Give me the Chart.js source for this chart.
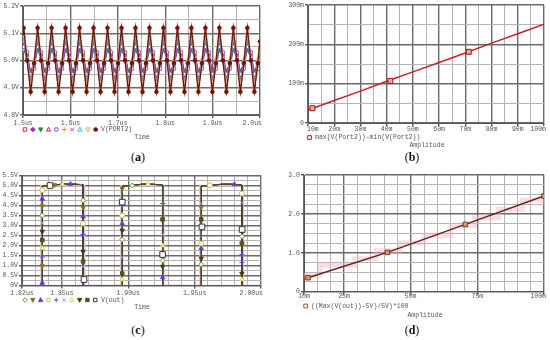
<!DOCTYPE html>
<html>
<head>
<meta charset="utf-8">
<script src="https://cdn.jsdelivr.net/npm/chart.js@4.4.1/dist/chart.umd.min.js"></script>
<style>
  body { margin: 0; background: #fff; width: 550px; height: 340px; position: relative; overflow: hidden; }
  .box { position: absolute; }
  .cap { position: absolute; font-family: "Liberation Serif", serif; font-size: 12px; line-height: 14px; color: #111; transform: translateX(-50%); }
</style>
</head>
<body>
<div class="box" style="left:0;top:0"><canvas id="chartA" width="275" height="145"></canvas></div>
<div class="box" style="left:275px;top:0"><canvas id="chartB" width="275" height="152"></canvas></div>
<div class="box" style="left:0;top:170px"><canvas id="chartC" width="275" height="145"></canvas></div>
<div class="box" style="left:275px;top:170px"><canvas id="chartD" width="275" height="150"></canvas></div>
<div class="cap" style="left:138px;top:150px">(<b>a</b>)</div>
<div class="cap" style="left:412px;top:150px">(<b>b</b>)</div>
<div class="cap" style="left:138px;top:323px">(<b>c</b>)</div>
<div class="cap" style="left:412px;top:323px">(<b>d</b>)</div>
<script>
// ---------- (a) V(PORT2), time in us ----------
const timeA = [1.5000,
  1.5013,1.5087,1.5161,1.5234, 1.5308,1.5382,1.5456,1.5529, 1.5603,1.5677,1.5751,1.5824, 1.5898,1.5972,1.6046,1.6119,
  1.6193,1.6267,1.6341,1.6414, 1.6488,1.6562,1.6636,1.6709, 1.6783,1.6857,1.6931,1.7004, 1.7078,1.7152,1.7226,1.7299,
  1.7373,1.7447,1.7521,1.7594, 1.7668,1.7742,1.7816,1.7889, 1.7963,1.8037,1.8111,1.8184, 1.8258,1.8332,1.8406,1.8479,
  1.8553,1.8627,1.8701,1.8774, 1.8848,1.8922,1.8996,1.9069, 1.9143,1.9217,1.9291,1.9364, 1.9438,1.9512,1.9586,1.9659,
  1.9733,1.9807,1.9881,1.9954,
  2.0000];
const vA1 = [5.06,
  5.07,5.01,4.93,4.99, 5.07,5.01,4.93,4.99, 5.07,5.01,4.93,4.99, 5.07,5.01,4.93,4.99,
  5.07,5.01,4.93,4.99, 5.07,5.01,4.93,4.99, 5.07,5.01,4.93,4.99, 5.07,5.01,4.93,4.99,
  5.07,5.01,4.93,4.99, 5.07,5.01,4.93,4.99, 5.07,5.01,4.93,4.99, 5.07,5.01,4.93,4.99,
  5.07,5.01,4.93,4.99, 5.07,5.01,4.93,4.99, 5.07,5.01,4.93,4.99, 5.07,5.01,4.93,4.99,
  5.07,5.01,4.93,4.99,
  5.04];
const vA2 = [5.05,
  5.06,5.02,4.94,4.98, 5.06,5.02,4.94,4.98, 5.06,5.02,4.94,4.98, 5.06,5.02,4.94,4.98,
  5.06,5.02,4.94,4.98, 5.06,5.02,4.94,4.98, 5.06,5.02,4.94,4.98, 5.06,5.02,4.94,4.98,
  5.06,5.02,4.94,4.98, 5.06,5.02,4.94,4.98, 5.06,5.02,4.94,4.98, 5.06,5.02,4.94,4.98,
  5.06,5.02,4.94,4.98, 5.06,5.02,4.94,4.98, 5.06,5.02,4.94,4.98, 5.06,5.02,4.94,4.98,
  5.06,5.02,4.94,4.98,
  5.03];
const vA3 = [5.03,
  5.04,5.01,4.96,4.99, 5.04,5.01,4.96,4.99, 5.04,5.01,4.96,4.99, 5.04,5.01,4.96,4.99,
  5.04,5.01,4.96,4.99, 5.04,5.01,4.96,4.99, 5.04,5.01,4.96,4.99, 5.04,5.01,4.96,4.99,
  5.04,5.01,4.96,4.99, 5.04,5.01,4.96,4.99, 5.04,5.01,4.96,4.99, 5.04,5.01,4.96,4.99,
  5.04,5.01,4.96,4.99, 5.04,5.01,4.96,4.99, 5.04,5.01,4.96,4.99, 5.04,5.01,4.96,4.99,
  5.04,5.01,4.96,4.99,
  5.02];
const vA4 = [5.07,
  5.09,5.00,4.91,4.98, 5.09,5.00,4.91,4.98, 5.09,5.00,4.91,4.98, 5.09,5.00,4.91,4.98,
  5.09,5.00,4.91,4.98, 5.09,5.00,4.91,4.98, 5.09,5.00,4.91,4.98, 5.09,5.00,4.91,4.98,
  5.09,5.00,4.91,4.98, 5.09,5.00,4.91,4.98, 5.09,5.00,4.91,4.98, 5.09,5.00,4.91,4.98,
  5.09,5.00,4.91,4.98, 5.09,5.00,4.91,4.98, 5.09,5.00,4.91,4.98, 5.09,5.00,4.91,4.98,
  5.09,5.00,4.91,4.98,
  5.05];
const vA5 = [5.04,
  5.05,5.03,4.95,4.97, 5.05,5.03,4.95,4.97, 5.05,5.03,4.95,4.97, 5.05,5.03,4.95,4.97,
  5.05,5.03,4.95,4.97, 5.05,5.03,4.95,4.97, 5.05,5.03,4.95,4.97, 5.05,5.03,4.95,4.97,
  5.05,5.03,4.95,4.97, 5.05,5.03,4.95,4.97, 5.05,5.03,4.95,4.97, 5.05,5.03,4.95,4.97,
  5.05,5.03,4.95,4.97, 5.05,5.03,4.95,4.97, 5.05,5.03,4.95,4.97, 5.05,5.03,4.95,4.97,
  5.05,5.03,4.95,4.97,
  5.02];
const vA6 = [5.08,
  5.10,5.01,4.90,5.00, 5.10,5.01,4.90,5.00, 5.10,5.01,4.90,5.00, 5.10,5.01,4.90,5.00,
  5.10,5.01,4.90,5.00, 5.10,5.01,4.90,5.00, 5.10,5.01,4.90,5.00, 5.10,5.01,4.90,5.00,
  5.10,5.01,4.90,5.00, 5.10,5.01,4.90,5.00, 5.10,5.01,4.90,5.00, 5.10,5.01,4.90,5.00,
  5.10,5.01,4.90,5.00, 5.10,5.01,4.90,5.00, 5.10,5.01,4.90,5.00, 5.10,5.01,4.90,5.00,
  5.10,5.01,4.90,5.00,
  5.06];
const vA7 = [5.06,
  5.08,5.02,4.92,4.99, 5.08,5.02,4.92,4.99, 5.08,5.02,4.92,4.99, 5.08,5.02,4.92,4.99,
  5.08,5.02,4.92,4.99, 5.08,5.02,4.92,4.99, 5.08,5.02,4.92,4.99, 5.08,5.02,4.92,4.99,
  5.08,5.02,4.92,4.99, 5.08,5.02,4.92,4.99, 5.08,5.02,4.92,4.99, 5.08,5.02,4.92,4.99,
  5.08,5.02,4.92,4.99, 5.08,5.02,4.92,4.99, 5.08,5.02,4.92,4.99, 5.08,5.02,4.92,4.99,
  5.08,5.02,4.92,4.99,
  5.05];
const vA8 = [5.07,
  5.09,5.00,4.92,4.98, 5.09,5.00,4.92,4.98, 5.09,5.00,4.92,4.98, 5.09,5.00,4.92,4.98,
  5.09,5.00,4.92,4.98, 5.09,5.00,4.92,4.98, 5.09,5.00,4.92,4.98, 5.09,5.00,4.92,4.98,
  5.09,5.00,4.92,4.98, 5.09,5.00,4.92,4.98, 5.09,5.00,4.92,4.98, 5.09,5.00,4.92,4.98,
  5.09,5.00,4.92,4.98, 5.09,5.00,4.92,4.98, 5.09,5.00,4.92,4.98, 5.09,5.00,4.92,4.98,
  5.09,5.00,4.92,4.98,
  5.05];
const vA9 = [5.09,
  5.11,5.01,4.89,5.00, 5.11,5.01,4.89,5.00, 5.11,5.01,4.89,5.00, 5.11,5.01,4.89,5.00,
  5.11,5.01,4.89,5.00, 5.11,5.01,4.89,5.00, 5.11,5.01,4.89,5.00, 5.11,5.01,4.89,5.00,
  5.11,5.01,4.89,5.00, 5.11,5.01,4.89,5.00, 5.11,5.01,4.89,5.00, 5.11,5.01,4.89,5.00,
  5.11,5.01,4.89,5.00, 5.11,5.01,4.89,5.00, 5.11,5.01,4.89,5.00, 5.11,5.01,4.89,5.00,
  5.11,5.01,4.89,5.00,
  5.07];
const vA10 = [5.10,
  5.12,5.00,4.885,4.99, 5.12,5.00,4.885,4.99, 5.12,5.00,4.885,4.99, 5.12,5.00,4.885,4.99,
  5.12,5.00,4.885,4.99, 5.12,5.00,4.885,4.99, 5.12,5.00,4.885,4.99, 5.12,5.00,4.885,4.99,
  5.12,5.00,4.885,4.99, 5.12,5.00,4.885,4.99, 5.12,5.00,4.885,4.99, 5.12,5.00,4.885,4.99,
  5.12,5.00,4.885,4.99, 5.12,5.00,4.885,4.99, 5.12,5.00,4.885,4.99, 5.12,5.00,4.885,4.99,
  5.12,5.00,4.885,4.99,
  5.07];
const xTicksA = [1.5, 1.6, 1.7, 1.8, 1.9, 2.0];
const xLabsA = ['1.5us', '1.6us', '1.7us', '1.8us', '1.9us', '2.0us'];
const yTicksA = [4.8, 4.9, 5.0, 5.1, 5.2];
const yLabsA = ['4.8V', '4.9V', '5.0V', '5.1V', '5.2V'];

// ---------- (b) swing vs amplitude (mV) ----------
const ampB = [10, 20, 30, 40, 50, 60, 70, 80, 90, 100];
const swingB = [33, 57, 81, 106, 130, 154, 178, 203, 227, 251];
const markAmpB = [11.7, 41.4, 71.3];
const markSwingB = [37.5, 107, 181];
const xTicksB = [10, 20, 30, 40, 50, 60, 70, 80, 90, 100];
const xLabsB = ['10m', '20m', '30m', '40m', '50m', '60m', '70m', '80m', '90m', '100m'];
const yTicksB = [0, 100, 200, 300];
const yLabsB = ['0', '100m', '200m', '300m'];

// ---------- (c) V(out), time in us ----------
const timeC = [1.8200, 1.8353, 1.8353, 1.8390, 1.8450, 1.8510, 1.8590, 1.8660, 1.8660,
  1.8955, 1.8955, 1.8990, 1.9050, 1.9110, 1.9190, 1.9259, 1.9259,
  1.9550, 1.9550, 1.9590, 1.9650, 1.9720, 1.9790, 1.9856, 1.9856, 2.0000];
const voltC = [0, 0, 4.97, 4.99, 5.03, 5.07, 5.07, 5.03, 0,
  0, 4.97, 4.98, 5.02, 5.07, 5.06, 5.02, 0,
  0, 4.97, 4.99, 5.03, 5.07, 5.06, 5.02, 0, 0];
const pinkT = [1.82, 1.8343, 1.8343, 1.8672, 1.8672, 1.8945, 1.8945, 1.9268, 1.9268, 1.9540, 1.9540, 1.9866, 1.9866, 2.0];
const pinkV = [0, 0, 5.0, 5.0, 0, 0, 5.0, 5.0, 0, 0, 5.0, 5.0, 0, 0];
const mC0 = [[1.8353,3.50],[1.8660,4.25],[1.8955,2.30],[1.9259,1.25],[1.9550,1.05],[1.9856,2.45],[1.9030,5.00]];
const mC1 = [[1.8353,3.97],[1.8353,0.97],[1.8660,3.90],[1.8955,4.85],[1.9259,3.30],[1.9550,3.90],[1.9856,2.10],[1.8445,5.03]];
const mC2 = [[1.8353,4.33],[1.8353,0.13],[1.8660,3.45],[1.8955,3.10],[1.9259,0.40],[1.9550,1.85],[1.8565,5.07],[1.9800,5.06]];
const mC3 = [[1.8353,4.77],[1.8660,3.10],[1.8955,3.50],[1.9550,2.10],[1.9856,4.60],[1.9615,5.01]];
const mC4 = [[1.8353,1.42],[1.8660,2.55],[1.8955,4.00],[1.9259,4.10],[1.9550,2.50],[1.9856,1.55],[1.9856,1.15]];
const mC5 = [[1.8353,3.13],[1.8660,0.95],[1.8955,1.40],[1.9259,2.55],[1.9550,4.10],[1.9856,4.15],[1.8640,5.04]];
const mC6 = [[1.8353,1.87],[1.8955,0.30],[1.9259,2.00],[1.9856,0.30],[1.8505,5.06],[1.9150,5.07]];
const mC7 = [[1.8353,2.70],[1.8660,1.70],[1.8955,2.75],[1.9259,0.95],[1.9550,1.35],[1.9856,0.60]];
const mC8 = [[1.8353,2.27],[1.8660,1.20],[1.8955,0.60],[1.9259,3.30],[1.9550,3.30],[1.9856,2.10]];
const mC9 = [[1.8411,5.00],[1.8667,0.30],[1.8955,4.17],[1.9259,1.55],[1.9555,2.93],[1.9858,2.80]];
const xTicksC = [1.82, 1.85, 1.90, 1.95, 2.00];
const xLabsC = ['1.82us', '1.85us', '1.90us', '1.95us', '2.00us'];
const yTicksC = [0, 0.5, 1.0, 1.5, 2.0, 2.5, 3.0, 3.5, 4.0, 4.5, 5.0, 5.5];
const yLabsC = ['0V', '0.5V', '1.0V', '1.5V', '2.0V', '2.5V', '3.0V', '3.5V', '4.0V', '4.5V', '5.0V', '5.5V'];

// ---------- (d) overshoot % vs amplitude (mV) ----------
const ampD = [11.5, 41.3, 70.5, 100];
const devD = [0.36, 1.01, 1.73, 2.46];
// faint pink step trace seen behind the curve
const pinkAmpD = [10, 16, 29, 37, 46, 55, 65, 74, 83, 92, 100];
const pinkDevD = [0.42, 0.68, 0.85, 1.05, 1.25, 1.45, 1.70, 1.90, 2.12, 2.35, 2.45];
const xTicksD = [10, 25, 50, 75, 100];
const xLabsD = ['10m', '25m', '50m', '75m', '100m'];
const yTicksD = [0, 1, 2, 3];
const yLabsD = ['0', '1.0', '2.0', '3.0'];

// ---------- styles ----------
const MONO = '"Liberation Mono", "DejaVu Sans Mono", monospace';
const TXT = '#555';
const styleA = [
  { c: '#e4262c', s: 'rect', fill: false },
  { c: '#9a2fd0', s: 'rectRot', fill: true },
  { c: '#1f9a2a', s: 'triangle', rot: 180, fill: true },
  { c: '#e0203c', s: 'triangle', fill: false },
  { c: '#7a3cf0', s: 'circle', fill: false },
  { c: '#f09a10', s: 'cross' },
  { c: '#e02cd0', s: 'crossRot' },
  { c: '#2ec4c4', s: 'triangle', fill: false },
  { c: '#f0b030', s: 'triangle', rot: 180, fill: false },
  { c: '#7a0e0e', s: 'circle', fill: true }
];
const styleC = [
  { c: '#6a9a20', s: 'rectRot', fill: false },
  { c: '#8a7418', s: 'triangle', rot: 180, fill: true },
  { c: '#5a3ee0', s: 'triangle', fill: true },
  { c: '#c8c030', s: 'circle', fill: false },
  { c: '#4a5ae8', s: 'cross' },
  { c: '#a8a0e8', s: 'crossRot' },
  { c: '#e0d840', s: 'triangle', fill: false },
  { c: '#4a3a10', s: 'triangle', rot: 180, fill: true },
  { c: '#5a5018', s: 'rect', fill: true },
  { c: '#333333', s: 'rect', fill: false }
];

Chart.defaults.font.family = MONO;
Chart.defaults.font.size = 6.5;
Chart.defaults.color = TXT;
Chart.defaults.animation = false;

function onList(v, list) { return list.some(t => Math.abs(t - v) < 1e-6); }
function labelFor(v, ticks, labs) {
  const i = ticks.findIndex(t => Math.abs(t - v) < 1e-6);
  return i >= 0 ? labs[i] : '';
}
function gridFor(ticks) {
  const major = c => c.tick && onList(c.tick.value, ticks);
  return {
    color: c => major(c) ? '#6a6a6a' : '#b4b4b4',
    lineWidth: c => major(c) ? 1.4 : 1,
    tickColor: c => major(c) ? '#555' : 'rgba(0,0,0,0)',
    tickLength: 3,
    drawTicks: true
  };
}
function scaleX(min, max, step, ticks, h) {
  return {
    type: 'linear', min: min, max: max,
    ticks: { stepSize: step, display: false, autoSkip: false },
    grid: gridFor(ticks),
    border: { color: '#555', width: 1 },
    afterFit(s) { s.height = h; s.paddingLeft = 0; s.paddingRight = 0; }
  };
}
function scaleY(min, max, step, ticks, labs, w) {
  return {
    min: min, max: max,
    ticks: { stepSize: step, autoSkip: false, padding: 1, color: TXT,
      callback: v => labelFor(v, ticks, labs) },
    grid: gridFor(ticks),
    border: { color: '#555', width: 1 },
    afterFit(s) { s.width = w; }
  };
}
function pointOpts(st, r) {
  return {
    pointStyle: st.s,
    pointRotation: st.rot || 0,
    pointRadius: r,
    pointBorderWidth: 1,
    pointBorderColor: st.c,
    pointBackgroundColor: st.fill ? st.c : '#ffffff'
  };
}
function drawMarker(ctx, st, x, y, r) {
  ctx.save();
  ctx.lineWidth = 1;
  ctx.strokeStyle = st.c;
  ctx.fillStyle = st.fill ? st.c : '#ffffff';
  ctx.beginPath();
  const d = st.rot ? -1 : 1;
  switch (st.s) {
    case 'rect': ctx.rect(x - r * 0.75, y - r * 0.75, r * 1.5, r * 1.5); break;
    case 'rectRot': ctx.moveTo(x, y - r); ctx.lineTo(x + r, y); ctx.lineTo(x, y + r); ctx.lineTo(x - r, y); ctx.closePath(); break;
    case 'triangle': ctx.moveTo(x, y - d * r); ctx.lineTo(x + r * 0.9, y + d * r * 0.7); ctx.lineTo(x - r * 0.9, y + d * r * 0.7); ctx.closePath(); break;
    case 'circle': ctx.arc(x, y, r * 0.8, 0, Math.PI * 2); break;
    case 'cross': ctx.moveTo(x - r, y); ctx.lineTo(x + r, y); ctx.moveTo(x, y - r); ctx.lineTo(x, y + r); break;
    case 'crossRot': ctx.moveTo(x - r * 0.75, y - r * 0.75); ctx.lineTo(x + r * 0.75, y + r * 0.75); ctx.moveTo(x + r * 0.75, y - r * 0.75); ctx.lineTo(x - r * 0.75, y + r * 0.75); break;
  }
  if (st.s !== 'cross' && st.s !== 'crossRot') ctx.fill();
  ctx.stroke();
  ctx.restore();
}
// x tick labels, legend row and axis title under each plot
function extras(cfg) {
  return {
    id: 'extras',
    afterDraw(chart) {
      const ctx = chart.ctx, xs = chart.scales.x, a = chart.chartArea;
      ctx.save();
      ctx.font = '6.5px ' + MONO;
      ctx.fillStyle = TXT;
      ctx.textBaseline = 'middle';
      ctx.textAlign = 'left';
      cfg.xTicks.forEach((v, i) => {
        const s = cfg.xLabs[i], w = ctx.measureText(s).width;
        let x = xs.getPixelForValue(v) - w / 2;
        if (i === 0 && cfg.firstLeft) x = a.left - 1;
        x = Math.min(x, a.right + 2 - w);
        ctx.fillText(s, x, cfg.labY);
      });
      cfg.legend.forEach((st, i) => drawMarker(ctx, st, cfg.legX + i * cfg.legDx, cfg.legY, cfg.legR));
      ctx.fillStyle = TXT;
      ctx.fillText(cfg.legText, cfg.legTextX, cfg.legY);
      ctx.textAlign = 'center';
      ctx.fillText(cfg.title, cfg.titleX, cfg.titleY);
      ctx.restore();
    }
  };
}
const base = {
  responsive: false,
  events: [],
  plugins: { legend: { display: false }, tooltip: { enabled: false } }
};

// ---------- chart (a) ----------
const rowsA = [vA1, vA2, vA3, vA4, vA5, vA6, vA7, vA8, vA9, vA10];
new Chart(document.getElementById('chartA'), {
  type: 'line',
  data: {
    datasets: rowsA.map((row, i) => Object.assign({
      data: timeA.map((t, k) => ({ x: t, y: row[k] })),
      borderColor: styleA[i].c,
      borderWidth: 1.3,
      order: 10 - i
    }, pointOpts(styleA[i], 1.8)))
  },
  options: Object.assign({}, base, {
    layout: { padding: { top: 6, right: 15, left: 0, bottom: 0 } },
    scales: {
      x: scaleX(1.5, 2.0, 0.05, xTicksA, 30),
      y: scaleY(4.8, 5.2, 0.05, yTicksA, yLabsA, 23)
    }
  }),
  plugins: [extras({ xTicks: xTicksA, xLabs: xLabsA, labY: 123.5,
    legend: styleA, legX: 25, legDx: 7.85, legY: 129.5, legR: 2.3,
    legText: 'V(PORT2)', legTextX: 101, title: 'Time', titleX: 142, titleY: 137 })]
});

// ---------- chart (b) ----------
const styleB = { c: '#c81818', s: 'rect', fill: false };
new Chart(document.getElementById('chartB'), {
  type: 'line',
  data: {
    datasets: [
      { data: markAmpB.map((a, i) => ({ x: a, y: markSwingB[i] })), showLine: false,
        pointStyle: 'rect', pointRadius: 3.5, pointBorderWidth: 1, pointBorderColor: '#a81010',
        pointBackgroundColor: '#f0a8a8', order: 0 },
      { data: ampB.map((a, i) => ({ x: a, y: swingB[i] })), borderColor: '#cc1f1f',
        borderWidth: 1.5, pointRadius: 0, order: 1 }
    ]
  },
  options: Object.assign({}, base, {
    layout: { padding: { top: 5, right: 6, left: 0, bottom: 0 } },
    scales: {
      x: scaleX(10, 100, 5, xTicksB, 29),
      y: scaleY(0, 300, 50, yTicksB, yLabsB, 33)
    }
  }),
  plugins: [extras({ xTicks: xTicksB, xLabs: xLabsB, labY: 129.5, firstLeft: true,
    legend: [styleB], legX: 34.5, legDx: 0, legY: 137.5, legR: 2.5,
    legText: 'max(V(Port2))-min(V(Port2))', legTextX: 40, title: 'Amplitude', titleX: 152, titleY: 145.5 })]
});

// ---------- chart (c) ----------
const marksC = [mC0, mC1, mC2, mC3, mC4, mC5, mC6, mC7, mC8, mC9];
const lineDataC = timeC.map((t, k) => ({ x: t, y: voltC[k] }));
const dsC = [];
styleC.forEach((st, i) => {
  dsC.push({ data: lineDataC, borderColor: i === 9 ? '#4a4428' : st.c, borderWidth: 1,
    pointRadius: 0, order: 30 - i });
  dsC.push(Object.assign({ data: marksC[i].map(p => ({ x: p[0], y: p[1] })), showLine: false,
    order: 9 - i }, pointOpts(st, i === 9 ? 4 : 2.5)));
});
dsC.push({ data: pinkT.map((t, k) => ({ x: t, y: pinkV[k] })), borderColor: '#f2b6d6',
  borderWidth: 1.3, pointRadius: 0, order: 100 });
new Chart(document.getElementById('chartC'), {
  type: 'line',
  data: { datasets: dsC },
  options: Object.assign({}, base, {
    layout: { padding: { top: 5.5, right: 14, left: 0, bottom: 0 } },
    scales: {
      x: scaleX(1.82, 2.00, 0.01, xTicksC, 29.5),
      y: scaleY(0, 5.5, 0.25, yTicksC, yLabsC, 22)
    }
  }),
  plugins: [extras({ xTicks: xTicksC, xLabs: xLabsC, labY: 123.3,
    legend: styleC, legX: 25, legDx: 7.8, legY: 130, legR: 2.3,
    legText: 'V(out)', legTextX: 101, title: 'Time', titleX: 142, titleY: 137.7 })]
});

// ---------- chart (d) ----------
const styleD = { c: '#a0582a', s: 'rect', fill: false };
new Chart(document.getElementById('chartD'), {
  type: 'line',
  data: {
    datasets: [{
      data: ampD.map((a, i) => ({ x: a, y: devD[i] })),
      borderColor: '#5e2410', borderWidth: 1.5,
      pointStyle: 'rect', pointRadius: 3.2, pointBorderWidth: 1,
      pointBorderColor: '#7a3a18', pointBackgroundColor: '#d89a70', order: 0
    }, {
      data: pinkAmpD.map((a, i) => ({ x: a, y: pinkDevD[i] })),
      stepped: 'before', borderColor: 'rgba(244,176,204,0.45)', borderWidth: 5,
      pointRadius: 0, order: 1
    }]
  },
  options: Object.assign({}, base, {
    layout: { padding: { top: 5, right: 6, left: 0, bottom: 0 } },
    scales: {
      x: scaleX(10, 100, 5, xTicksD, 28.3),
      y: scaleY(0, 3, 0.25, yTicksD, yLabsD, 29)
    }
  }),
  plugins: [extras({ xTicks: xTicksD, xLabs: xLabsD, labY: 126.7,
    legend: [styleD], legX: 30.7, legDx: 0, legY: 136, legR: 2.5,
    legText: '((Max(V(out))-5V)/5V)*100', legTextX: 36, title: 'Amplitude', titleX: 150, titleY: 145 })]
});
</script>
</body>
</html>
